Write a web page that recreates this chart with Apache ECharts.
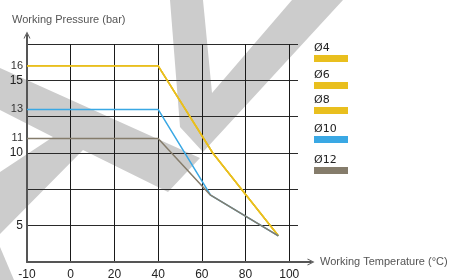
<!DOCTYPE html>
<html><head><meta charset="utf-8">
<script src="https://cdn.jsdelivr.net/npm/echarts@6/dist/echarts.min.js"></script>
<style>html,body{margin:0;padding:0;background:#fff}#c{width:453px;height:280px}</style>
</head><body><div id="c"></div>
<script>
// ---- data ----
const seriesNames = ['Ø4', 'Ø6', 'Ø8', 'Ø10', 'Ø12'];
const seriesColors = ['#E9BF1E', '#E9BF1E', '#E9BF1E', '#3AA8E4', '#857C6B'];
// temperature values (°C); the first point sits on the axis start, labelled "-10"
const temp4 = [-20, 40, 65, 95];
const pres4 = [16, 16, 10, 4.3];
const temp6 = [-20, 40, 65, 95];
const pres6 = [16, 16, 10, 4.3];
const temp8 = [-20, 40, 65, 95];
const pres8 = [16, 16, 10, 4.3];
const temp10 = [-20, 40, 64, 95];
const pres10 = [13, 13, 7.1, 4.3];
const temp12 = [-20, 40, 64, 95];
const pres12 = [11, 11, 7.1, 4.3];
// tick labels
const xTickValues = [-20, 0, 20, 40, 60, 80, 100];
const xTickLabels = ['-10', '0', '20', '40', '60', '80', '100'];
const yLabelValues = [5, 10, 11, 13, 15, 16];
const yMajorLabels = [5, 10, 15];

const temps = [temp4, temp6, temp8, temp10, temp12];
const press = [pres4, pres6, pres8, pres10, pres12];

const FONT = "'Liberation Sans', Arial, sans-serif";
const chart = echarts.init(document.getElementById('c'), null, { renderer: 'canvas' });

const legendTops = [43, 70, 95, 124, 155];
const legends = seriesNames.map((n, i) => {
  const rich = { t: { fontSize: 11, lineHeight: 13, color: '#222', fontFamily: 'DejaVu Sans, sans-serif' } };
  rich['s' + i] = { width: 34, height: 7, lineHeight: 7, backgroundColor: seriesColors[i] };
  return {
    data: [n], left: 309, top: legendTops[i], padding: 0, orient: 'vertical',
    icon: 'none', itemWidth: 0, itemHeight: 0, selectedMode: false,
    formatter: name => '{t|' + name + '}\n{s' + i + '|}',
    textStyle: { rich: rich }
  };
});

const arrowPath = 'path://M0,10 L5,0 L10,10 L8.6,10 L5,2.8 L1.4,10 Z';

chart.setOption({
  animation: false,
  backgroundColor: '#fff',
  graphic: [
    { type: 'polygon', z: -100, shape: { points: [[170,0],[203,0],[212,93],[292,0],[343,0],[203,152],[180,127]] }, style: { fill: '#cccccc' } },
    { type: 'polygon', z: -100, shape: { points: [[0,68],[200,158],[168,192],[83,150],[0,234],[0,172],[53,137],[0,110]] }, style: { fill: '#cccccc' } },
    { type: 'polygon', z: -100, shape: { points: [[0,247],[14,280],[0,280]] }, style: { fill: '#cccccc' } }
  ],
  legend: legends,
  grid: [
    { left: 27, right: 155, top: 44, bottom: 18, containLabel: false, outerBoundsMode: 'none' },
    { left: 27, right: 142, top: 35, bottom: 18, containLabel: false, outerBoundsMode: 'none' }
  ],
  xAxis: [
    {
      type: 'value', gridIndex: 0, min: -20, max: 104, interval: 20,
      axisLine: { show: false }, axisTick: { show: false },
      splitLine: { show: true, showMinLine: false, showMaxLine: false, lineStyle: { color: '#1a1a1a', width: 1 } },
      axisLabel: {
        margin: 7, color: '#222', fontSize: 12, fontFamily: FONT,
        formatter: v => { const k = xTickValues.indexOf(v); return k >= 0 ? xTickLabels[k] : ''; }
      }
    },
    {
      type: 'value', gridIndex: 1, min: 0, max: 1,
      axisLine: { show: true, symbol: ['none', arrowPath], symbolSize: [7, 8], lineStyle: { color: '#555', width: 2 } },
      axisTick: { show: false }, axisLabel: { show: false }, splitLine: { show: false },
      name: 'Working Temperature (°C)', nameLocation: 'end', nameGap: 9,
      nameTextStyle: { color: '#555', fontSize: 11, fontFamily: FONT, verticalAlign: 'middle', padding: [0, 0, 6, 0] }
    }
  ],
  yAxis: [
    {
      type: 'value', gridIndex: 0, min: 2.5, max: 17.5, interval: 2.5,
      axisLine: { show: false }, axisTick: { show: false },
      splitLine: { show: true, showMinLine: false, lineStyle: { color: '#2a2a2a', width: 1 } },
      axisLabel: {
        customValues: yLabelValues, margin: 4, fontFamily: FONT,
        formatter: v => yMajorLabels.indexOf(v) >= 0 ? '{b|' + v + '}' : '{m|' + v + '}',
        rich: { b: { fontSize: 12, color: '#222', fontFamily: FONT }, m: { fontSize: 11, color: '#333', fontFamily: FONT } }
      }
    },
    {
      type: 'value', gridIndex: 1, min: 0, max: 1,
      axisLine: { show: true, symbol: ['none', arrowPath], symbolSize: [7, 8], lineStyle: { color: '#555', width: 2 } },
      axisTick: { show: false }, axisLabel: { show: false }, splitLine: { show: false },
      name: 'Working Pressure (bar)', nameLocation: 'end', nameGap: 10,
      nameTextStyle: { color: '#555', fontSize: 11, fontFamily: FONT, align: 'left', padding: [0, 0, 0, -15] }
    }
  ],
  series: seriesNames.map((n, i) => ({
    name: n, type: 'line', xAxisIndex: 0, yAxisIndex: 0, symbol: 'none', z: 3 + i,
    lineStyle: { color: seriesColors[i], width: 1.5 }, itemStyle: { color: seriesColors[i] },
    data: temps[i].map((t, j) => [t, press[i][j]])
  }))
});
</script></body></html>
